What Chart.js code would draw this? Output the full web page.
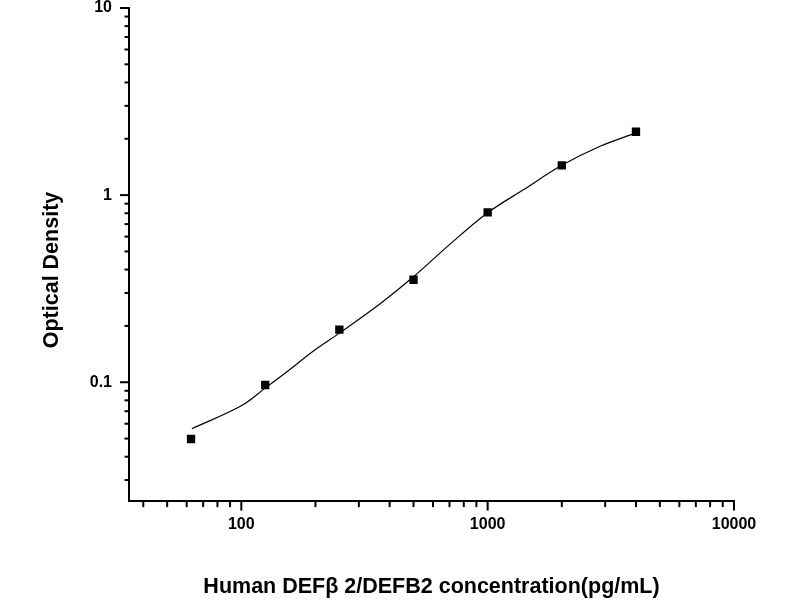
<!DOCTYPE html>
<html>
<head>
<meta charset="utf-8">
<script src="https://cdn.jsdelivr.net/npm/chart.js@4/dist/chart.umd.min.js"></script>
<style>
html,body{margin:0;padding:0;background:#fff;}
#wrap{width:800px;height:600px;}
</style>
</head>
<body>
<div id="wrap"><canvas id="c" width="800" height="600"></canvas></div>
<script>
// Standard points (concentration pg/mL, optical density)
const concentrations = [62.5, 125, 250, 500, 1000, 2000, 4000];
const odValues = [0.0497, 0.0966, 0.191, 0.353, 0.809, 1.443, 2.18];
// Fitted curve
const curveX = [63, 100, 125, 157, 195, 250, 365, 500, 700, 1000, 1400, 2000, 2860, 4000];
const curveY = [0.0564, 0.0748, 0.093, 0.1166, 0.146, 0.183, 0.262, 0.366, 0.544, 0.805, 1.07, 1.443, 1.824, 2.15];
// Axis ticks
const xMajorTicks = [100, 1000, 10000];
const xMinorTicks = [40, 50, 60, 70, 80, 90, 200, 300, 400, 500, 600, 700, 800, 900, 2000, 3000, 4000, 5000, 6000, 7000, 8000, 9000];
const xTickLabels = ['100', '1000', '10000'];
const yMajorTicks = [0.1, 1, 10];
const yMinorTicks = [0.03, 0.04, 0.05, 0.06, 0.07, 0.08, 0.09, 0.2, 0.3, 0.4, 0.5, 0.6, 0.7, 0.8, 0.9, 2, 3, 4, 5, 6, 7, 8, 9];
const yTickLabels = ['0.1', '1', '10'];
const xTitle = 'Human DEF\u03B2 2/DEFB2 concentration(pg/mL)';
const yTitle = 'Optical Density';

const FONT = '"Liberation Sans", Arial, sans-serif';

const pointsData = concentrations.map((x, i) => ({x: x, y: odValues[i]}));
const curveData = curveX.map((x, i) => ({x: x, y: curveY[i]}));

function labelFor(values, labels) {
  return function(v) {
    for (let i = 0; i < values.length; i++) {
      if (Math.abs(values[i] - v) / values[i] < 1e-6) return labels[i];
    }
    return '';
  };
}

const tickPlugin = {
  id: 'tickMarks',
  afterDraw(chart) {
    const ctx = chart.ctx;
    const xs = chart.scales.x, ys = chart.scales.y;
    const area = chart.chartArea;
    ctx.save();
    ctx.strokeStyle = '#000';
    ctx.lineWidth = 2;
    ctx.lineCap = 'butt';
    const xy = area.bottom;
    const drawX = (v, len) => {
      const p = xs.getPixelForValue(v);
      ctx.beginPath(); ctx.moveTo(p, xy); ctx.lineTo(p, xy + len); ctx.stroke();
    };
    xMajorTicks.forEach(v => drawX(v, 10));
    xMinorTicks.forEach(v => drawX(v, 6.5));
    const yx = area.left;
    const drawY = (v, len) => {
      const p = ys.getPixelForValue(v);
      ctx.beginPath(); ctx.moveTo(yx, p); ctx.lineTo(yx - len, p); ctx.stroke();
    };
    yMajorTicks.forEach(v => drawY(v, 9));
    yMinorTicks.forEach(v => drawY(v, 4.5));
    // y axis title
    ctx.fillStyle = '#000';
    ctx.font = 'bold 21.5px ' + FONT;
    ctx.textAlign = 'center';
    ctx.textBaseline = 'middle';
    ctx.translate(52, 270);
    ctx.rotate(-Math.PI / 2);
    ctx.fillText(yTitle, 0, 0);
    ctx.restore();
  }
};

new Chart(document.getElementById('c'), {
  type: 'line',
  data: {
    datasets: [
      {
        label: 'Standards',
        data: pointsData,
        showLine: false,
        pointStyle: 'rect',
        pointRadius: 5.9,
        pointBackgroundColor: '#000',
        pointBorderColor: '#000',
        pointBorderWidth: 0
      },
      {
        label: 'Fit',
        data: curveData,
        borderColor: '#000',
        borderWidth: 1.2,
        pointRadius: 0,
        fill: false,
        tension: 0.35
      }
    ]
  },
  options: {
    responsive: false,
    animation: false,
    devicePixelRatio: 1,
    layout: {padding: {left: 0, right: 66, top: 8, bottom: 0}},
    plugins: {legend: {display: false}, tooltip: {enabled: false}},
    scales: {
      x: {
        type: 'logarithmic',
        position: 'bottom',
        min: 35,
        max: 10000,
        afterBuildTicks(scale) {
          scale.ticks = xMinorTicks.concat(xMajorTicks).sort((a, b) => a - b).map(v => ({value: v}));
        },
        afterFit(scale) {
          scale.height = 99.4;
          scale.paddingLeft = 0;
          scale.paddingRight = 0;
        },
        grid: {display: true, drawOnChartArea: false, drawTicks: true, tickLength: 10, color: 'rgba(0,0,0,0)'},
        border: {display: true, color: '#000', width: 2},
        ticks: {
          autoSkip: false,
          maxRotation: 0,
          minRotation: 0,
          padding: 4,
          color: '#000',
          font: {family: FONT, size: 16, weight: 'bold'},
          callback: labelFor(xMajorTicks, xTickLabels)
        },
        title: {
          display: true,
          text: xTitle,
          color: '#000',
          font: {family: FONT, size: 21.5, weight: 'bold'},
          padding: {top: 0, bottom: 0}
        }
      },
      y: {
        type: 'logarithmic',
        position: 'left',
        min: 0.0233,
        max: 10,
        afterBuildTicks(scale) {
          scale.ticks = yMinorTicks.concat(yMajorTicks).sort((a, b) => a - b).map(v => ({value: v}));
        },
        afterFit(scale) {
          scale.width = 129;
          scale.paddingTop = 0;
          scale.paddingBottom = 0;
        },
        grid: {display: true, drawOnChartArea: false, drawTicks: true, tickLength: 9, color: 'rgba(0,0,0,0)'},
        border: {display: true, color: '#000', width: 2},
        ticks: {
          autoSkip: false,
          padding: 8,
          color: '#000',
          font: {family: FONT, size: 16, weight: 'bold'},
          callback: labelFor(yMajorTicks, yTickLabels)
        },
        title: {display: false}
      }
    }
  },
  plugins: [tickPlugin]
});
</script>
</body>
</html>
